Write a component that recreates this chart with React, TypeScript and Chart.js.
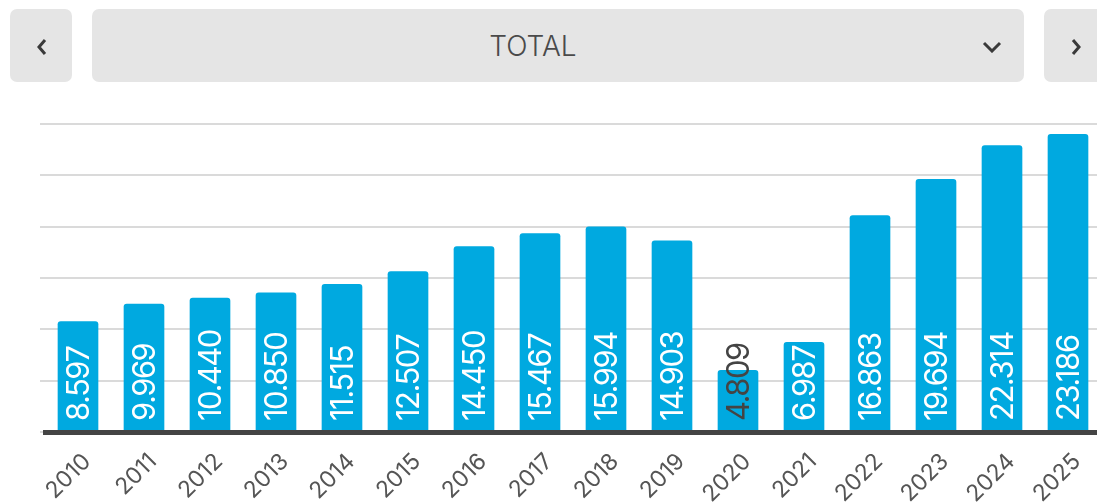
import React, { useEffect, useRef } from "react";
import { Chart, registerables } from "chart.js";

Chart.register(...registerables);

const years = ["2010", "2011", "2012", "2013", "2014", "2015", "2016", "2017", "2018", "2019", "2020", "2021", "2022", "2023", "2024", "2025"];
const totals = [8597, 9969, 10440, 10850, 11515, 12507, 14450, 15467, 15994, 14903, 4809, 6987, 16863, 19694, 22314, 23186];
const yMax = 24000;
const yStep = 4000;
const selectorLabel = "TOTAL";

const BAR_COLOR = "#00a9e0";
const TEXT_DARK = "#444444";
const LABEL_FONT = "Inter, 'Open Sans', sans-serif";

function formatThousands(v: number): string {
  const th = Math.floor(v / 1000);
  const rest = String(v % 1000).padStart(3, "0");
  return th > 0 ? `${th}.${rest}` : String(v);
}

const barLabelPlugin = {
  id: "barLabels",
  afterDatasetsDraw(chart: any) {
    const ctx = chart.ctx as any;
    const meta = chart.getDatasetMeta(0);
    const values = chart.data.datasets[0].data as number[];
    ctx.save();
    ctx.font = `31px ${LABEL_FONT}`;
    try {
      ctx.letterSpacing = "-1.5px";
    } catch (e) {}
    meta.data.forEach((bar: any, i: number) => {
      const text = formatThousands(values[i]);
      const w = ctx.measureText(text).width;
      const h = bar.base - bar.y;
      ctx.fillStyle = w + 8 > h ? TEXT_DARK : "#ffffff";
      ctx.save();
      ctx.translate(bar.x, bar.base - 10);
      ctx.rotate(-Math.PI / 2);
      ctx.textAlign = "left";
      ctx.textBaseline = "alphabetic";
      ctx.fillText(text, 0, 11);
      ctx.restore();
    });
    ctx.restore();
  },
};

function Chevron({ dir, cx, cy }: { dir: "left" | "right" | "down"; cx: number; cy: number }) {
  let pts = "";
  let w = 12;
  let h = 18;
  if (dir === "left") pts = "9,2 3,9 9,16";
  if (dir === "right") pts = "3,2 9,9 3,16";
  if (dir === "down") {
    w = 20;
    h = 12;
    pts = "2,2 10,10 18,2";
  }
  return (
    <svg
      width={w}
      height={h}
      style={{ position: "absolute", left: cx - w / 2, top: cy - h / 2 }}
    >
      <polyline points={pts} fill="none" stroke="#3a3a3a" strokeWidth={3} strokeLinecap="butt" strokeLinejoin="miter" />
    </svg>
  );
}

export default function App() {
  const canvasRef = useRef<HTMLCanvasElement | null>(null);

  useEffect(() => {
    if (!canvasRef.current) return;
    const chart = new Chart(canvasRef.current, {
      type: "bar",
      data: {
        labels: years,
        datasets: [
          {
            data: totals,
            backgroundColor: BAR_COLOR,
            borderRadius: 3,
            barThickness: 40,
          },
        ],
      },
      options: {
        animation: false,
        responsive: true,
        maintainAspectRatio: false,
        layout: { padding: { left: 40, right: 15, top: 24, bottom: 0 } },
        plugins: {
          legend: { display: false },
          tooltip: { enabled: false },
        },
        scales: {
          x: {
            grid: { display: false },
            border: { display: true, color: "#444444", width: 5, z: 1 },
            ticks: {
              color: "#555555",
              font: { family: LABEL_FONT, size: 23 },
              minRotation: 45,
              maxRotation: 45,
              autoSkip: false,
              padding: 8,
              labelOffset: 9,
            },
            afterFit: (s: any) => {
              s.height = 71;
            },
          },
          y: {
            min: 0,
            max: yMax,
            ticks: { stepSize: yStep, display: false },
            grid: { color: "#dadada", lineWidth: 2, tickLength: 5, drawTicks: true },
            border: { display: false },
            afterFit: (s: any) => {
              s.width = 5;
            },
          },
        },
      },
      plugins: [barLabelPlugin],
    });
    return () => chart.destroy();
  }, []);

  const btn: React.CSSProperties = {
    position: "absolute",
    top: 9,
    height: 73,
    background: "#e5e5e5",
    borderRadius: 7,
  };

  return (
    <div style={{ position: "fixed", left: 0, top: 0, width: 1097, height: 503, overflow: "hidden", background: "#fff" }}>
      <div style={{ position: "absolute", left: 0, top: 0, width: 1116, height: 503 }}>
        <div style={{ ...btn, left: 10, width: 62 }} />
        <div style={{ ...btn, left: 92, width: 932 }} />
        <div style={{ ...btn, left: 1044, width: 62 }} />
        <Chevron dir="left" cx={42} cy={47} />
        <Chevron dir="down" cx={992} cy={47} />
        <Chevron dir="right" cx={1076} cy={47} />
        <div
          style={{
            position: "absolute",
            left: 433,
            width: 200,
            top: 28,
            height: 36,
            lineHeight: "36px",
            textAlign: "center",
            fontFamily: "Inter, Lato, sans-serif",
            fontWeight: 300,
            fontSize: 28,
            color: "#4a4a4a",
          }}
        >
          {selectorLabel}
        </div>
        <div style={{ position: "absolute", left: 0, top: 100, width: 1116, height: 403 }}>
          <canvas ref={canvasRef} />
        </div>
      </div>
    </div>
  );
}
